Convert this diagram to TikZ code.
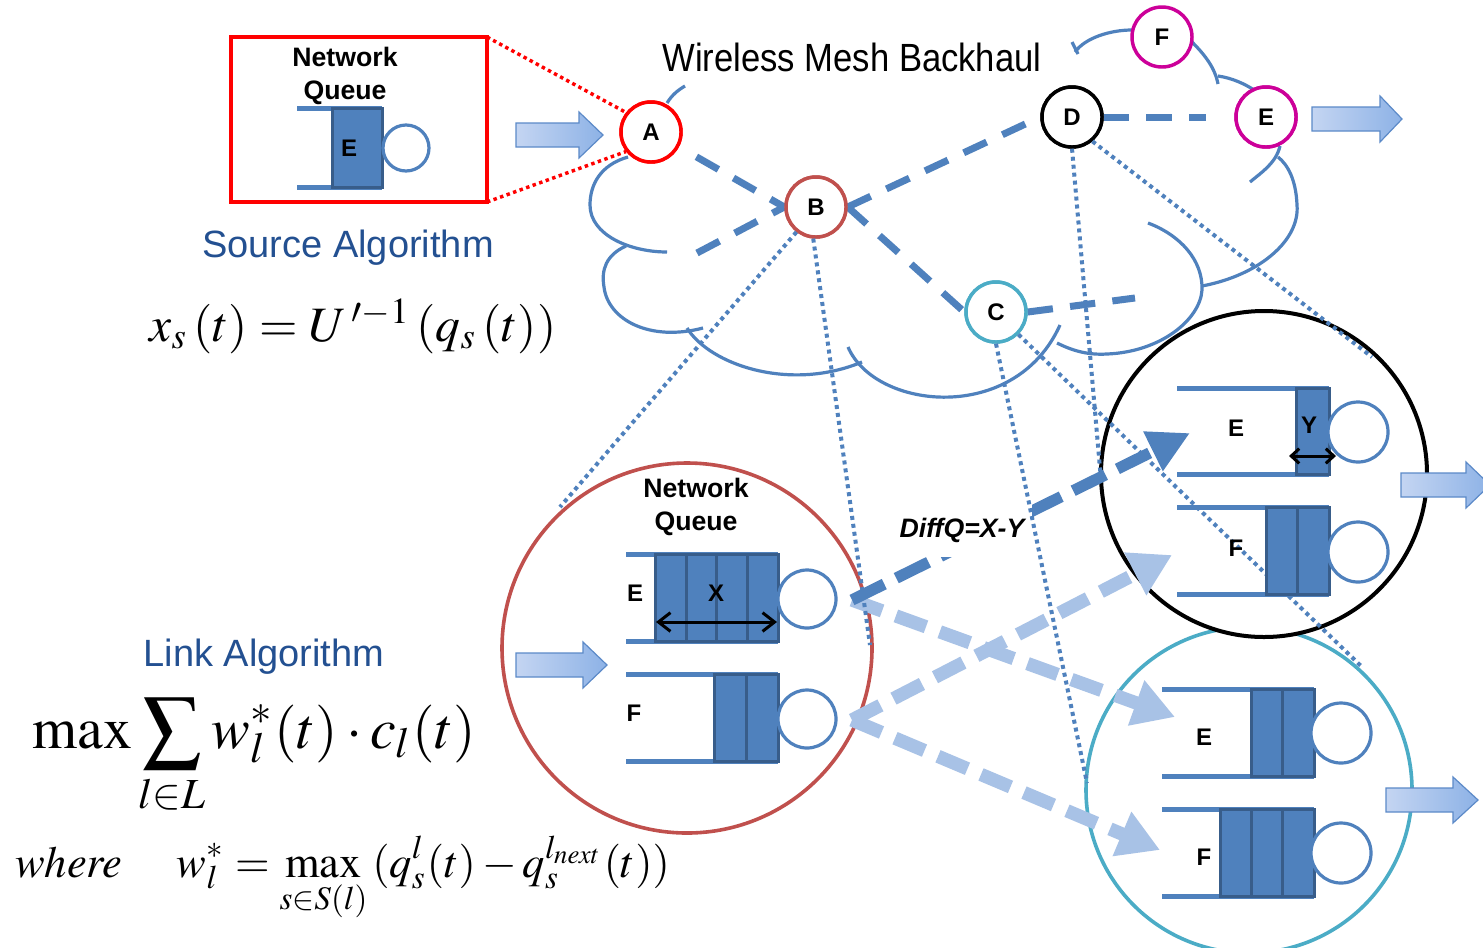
\documentclass[tikz,border=0pt]{standalone}
\usepackage{mathptmx}
\usepackage[no-math]{fontspec}
\setsansfont{Liberation Sans}
\usepackage{graphicx}
\usetikzlibrary{arrows.meta}

\definecolor{qblue}{RGB}{79,129,189}
\definecolor{qdark}{RGB}{56,93,138}
\definecolor{bnode}{RGB}{192,80,77}
\definecolor{cnode}{RGB}{75,172,198}
\definecolor{mnode}{RGB}{204,0,153}
\definecolor{hatchblue}{RGB}{168,194,230}
\definecolor{titleblue}{RGB}{35,80,145}
\definecolor{arrL}{RGB}{196,213,242}
\definecolor{arrR}{RGB}{141,178,230}
\definecolor{arrB}{RGB}{92,138,200}

% block arrow: start x, head start x, tip x, centre y
\newcommand{\flowarrow}[4]{%
  \shade[left color=arrL, right color=arrR, draw=arrB, line width=0.9pt]
    (#1,#4-12) -- (#2,#4-12) -- (#2,#4-23) -- (#3,#4) -- (#2,#4+23)
    -- (#2,#4+12) -- (#1,#4+12) -- cycle;}

\begin{document}
\begin{tikzpicture}[x=0.75pt,y=-0.75pt,
  netnode/.style={circle, draw, line width=2.6pt, fill=white, minimum size=45pt,
    inner sep=0pt, font=\sffamily\bfseries\fontsize{18}{18}\selectfont},
  cloudline/.style={qblue, line width=2.4pt},
  link/.style={qblue, line width=5.25pt, dash pattern=on 19pt off 13pt},
  zoomline/.style={qblue, line width=3pt, dash pattern=on 3pt off 3pt},
  reddot/.style={red, line width=2.6pt, dash pattern=on 2.6pt off 2.6pt},
  rail/.style={qblue, line width=3.75pt},
  cell/.style={fill=qblue, draw=qdark, line width=2.25pt},
  server/.style={circle, draw=qblue, line width=2.4pt, fill=white, inner sep=0pt, minimum size=44pt},
  qlabel/.style={font=\sffamily\bfseries\fontsize{18}{18}\selectfont},
  headtext/.style={font=\sffamily\bfseries\fontsize{20}{24.5}\selectfont, align=center},
  bigcircle/.style={circle, draw, fill=white, line width=2.7pt, inner sep=0pt},
  hatcharrow/.style={hatchblue, line width=10pt, dash pattern=on 24pt off 11pt,
    -{Triangle[length=31pt,width=34pt]}},
  diffarrow/.style={qblue, line width=8.5pt, dash pattern=on 27pt off 10pt,
    -{Triangle[length=31pt,width=31pt]}},
  spread/.style={{Straight Barb[length=9pt,width=14pt]}-{Straight Barb[length=9pt,width=14pt]}, line width=2.25pt},
  smallspread/.style={{Straight Barb[length=6pt,width=11pt]}-{Straight Barb[length=6pt,width=11pt]}, line width=2.25pt},
  title/.style={titleblue, font=\sffamily\fontsize{28.5}{30}\selectfont}
]
\useasboundingbox (0,0) rectangle (1483,947);
\fill[white] (0,0) rectangle (1483,947);

% ---------- mesh cloud ----------
\draw[cloudline] (667,103) .. controls (672,95) and (678,90) .. (685,86);
\draw[cloudline] (628,157) .. controls (600,165) and (590,185) .. (590,205)
  .. controls (590,235) and (630,252) .. (667,252);
\draw[cloudline] (626,246) .. controls (606,255) and (601,270) .. (604,287)
  .. controls (608,320) and (650,342) .. (703,328);
\draw[cloudline] (687,328) .. controls (710,365) and (790,392) .. (862,362);
\draw[cloudline] (848,347) .. controls (875,410) and (1015,425) .. (1060,325);
\draw[cloudline] (1057,343) .. controls (1075,352) and (1090,355) .. (1107,354)
  .. controls (1160,352) and (1200,320) .. (1202,290)
  .. controls (1203,260) and (1180,235) .. (1148,223);
\draw[cloudline] (1202,286) .. controls (1260,275) and (1300,240) .. (1297,205)
  .. controls (1296,180) and (1288,165) .. (1278,157);
\draw[cloudline] (1250,182) .. controls (1262,172) and (1276,163) .. (1280,146);
\draw[cloudline] (1192,42) .. controls (1205,55) and (1215,68) .. (1218,84);
\draw[cloudline] (1218,76) .. controls (1232,78) and (1245,84) .. (1254,90);
\draw[cloudline] (1132,30) .. controls (1110,30) and (1085,38) .. (1075,52);
\draw[cloudline] (1072,42) -- (1078,54);

\node[font=\sffamily\fontsize{29.5}{29.5}\selectfont] (mesh) at (852,57)
  {\scalebox{0.88}[1]{Wireless Mesh Backhaul}};

% ---------- mesh nodes ----------
\coordinate (Ac) at (651,132);
\coordinate (Bc) at (816,207);
\coordinate (Cc) at (996,312);
\coordinate (Dc) at (1072,117);
\coordinate (Ec) at (1266,117);
\node[netnode, draw=red]   (A) at (Ac) {A};
\node[netnode, draw=bnode] (B) at (Bc) {B};
\node[netnode, draw=cnode] (C) at (Cc) {C};
\node[netnode, draw=black] (D) at (Dc) {D};
\node[netnode, draw=mnode] (E) at (Ec) {E};
\node[netnode, draw=mnode] (F) at (1162,37) {F};

\coordinate (inB) at (697,253);
\coordinate (cEnd) at (1135,298);

% ---------- wireless links ----------
\draw[link, shorten <=15pt] (A.-28) -- (B.west);
\draw[link] (inB) -- (B.west);
\draw[link] (B.east) -- (D.west);
\draw[link] (B.east) -- (C.west);
\draw[link, shorten >=21pt] (D.east) -- (E.west);
\draw[link] (C.east) -- (cEnd);
% node discs drawn again above the link ends
\node[netnode, draw=red]   at (Ac) {A};
\node[netnode, draw=bnode] at (Bc) {B};
\node[netnode, draw=cnode] at (Cc) {C};
\node[netnode, draw=black] at (Dc) {D};
\node[netnode, draw=mnode] at (Ec) {E};

% ---------- source queue box ----------
\node[draw=red, line width=2.6pt, minimum width=192pt, minimum height=123.75pt,
  inner sep=0pt, outer sep=0pt] (srcbox) at (359,119.5) {};
\draw[reddot] (srcbox.north east) -- (A.142);
\draw[reddot] (srcbox.south east) -- (A.218);
\node[headtext] (srcq) at (345,76) {Network\\Queue};
\draw[rail] (297,108) -- (382,108) (297,187) -- (382,187);
\draw[cell] (332,108) rectangle (382,187);
\node[qlabel] at (349,148) {E};
\node[server, minimum size=34.5pt] (srcsrv) at (406,148) {};

\flowarrow{516}{579}{603}{135}
\flowarrow{1312}{1380}{1402}{119}

\node[title] (srcalg) at (348,248) {Source Algorithm};
\node (srcfml) at (353,326) {\resizebox{305pt}{!}{$x_s\,(t)=U\,'^{-1}\,(q_s\,(t))$}};

\node[title] (linkalg) at (264,657) {Link Algorithm};
\node[anchor=base west, inner sep=0pt] (linkfml) at (32,748)
  {\resizebox{333pt}{!}{$\displaystyle \max\sum_{l\in L} w_l^*(t)\cdot c_l(t)$}};
\node[anchor=base west, inner sep=0pt] (wherefml) at (15,877)
  {\resizebox{491pt}{!}{$\displaystyle \mathit{where}\quad\; w_l^* = \max_{s\in S(l)}\,(q_s^l(t)-q_s^{l_{next}}(t))$}};

% ---------- zoomed nodes ----------
\node[bigcircle, draw=cnode, minimum size=244.5pt] (zC) at (1249,790) {};
\node[bigcircle, draw=black, line width=3pt, minimum size=244.5pt] (zD) at (1264,474) {};
\node[bigcircle, draw=bnode, minimum size=277.5pt] (zB) at (687,648) {};

% tangent lines from mesh nodes to their zoomed views
\coordinate (tB1) at (560,507);
\coordinate (tB2) at (870,645);
\coordinate (tD1) at (1101,480);
\coordinate (tD2) at (1372,357);
\coordinate (tC1) at (1087,783);
\coordinate (tC2) at (1362,667);
\draw[zoomline] (B.232) -- (tB1);
\draw[zoomline] (D.270) -- (tD1);
\draw[zoomline] (D.-50) -- (tD2);
\draw[zoomline] (C.-45) -- (tC2);

% ---------- queues at B ----------
\node[headtext] (bq) at (696,507) {Network\\Queue};
\draw[rail] (626,554) -- (778,554) (626,641) -- (778,641);
\foreach \a/\b in {655/686,686/716,716/747,747/778}
  \draw[cell] (\a,554) rectangle (\b,641);
\node[server, minimum size=43.5pt] (bsE) at (807,599) {};
\node[qlabel] at (635,593) {E};
\node[qlabel] at (716,593) {X};
\draw[spread] (656,622) -- (777,622);

\draw[rail] (626,674) -- (778,674) (626,761) -- (778,761);
\foreach \a/\b in {714/746,746/778}
  \draw[cell] (\a,674) rectangle (\b,761);
\node[server, minimum size=43.5pt] (bsF) at (807,719) {};
\node[qlabel] at (634,713) {F};

\flowarrow{516}{583}{607}{665}

% ---------- queues at D ----------
\draw[rail] (1177,388) -- (1329,388) (1177,474) -- (1329,474);
\draw[cell] (1296,388) rectangle (1329,474);
\node[server, minimum size=45pt] (dsE) at (1358,432) {};
\node[qlabel] at (1236,428) {E};
\node[qlabel] at (1309,425) {Y};
\draw[smallspread] (1289,456) -- (1336,456);

\draw[rail] (1177,507) -- (1329,507) (1177,594) -- (1329,594);
\foreach \a/\b in {1266/1297,1297/1329}
  \draw[cell] (\a,507) rectangle (\b,594);
\node[server, minimum size=45pt] (dsF) at (1358,552) {};
\node[qlabel] at (1236,548) {F};

\flowarrow{1401}{1466}{1490}{485}

% ---------- queues at C ----------
\draw[rail] (1162,689) -- (1314,689) (1162,776) -- (1314,776);
\foreach \a/\b in {1251/1282,1282/1314}
  \draw[cell] (\a,689) rectangle (\b,776);
\node[server, minimum size=45pt] (csE) at (1341,733) {};
\node[qlabel] at (1204,737) {E};

\draw[rail] (1162,809) -- (1314,809) (1162,896) -- (1314,896);
\foreach \a/\b in {1220/1251,1251/1282,1282/1314}
  \draw[cell] (\a,809) rectangle (\b,896);
\node[server, minimum size=45pt] (csF) at (1341,853) {};
\node[qlabel] at (1204,857) {F};

\flowarrow{1386}{1453}{1478}{800}

% ---------- back-pressure transfers ----------
\coordinate (fromE) at (852,600);
\coordinate (fromF) at (852,720);
\coordinate (toCE) at (1175,717);
\coordinate (toDF) at (1172,555);
\coordinate (toCF) at (1160,850);
\coordinate (toDE) at (1190,433);
\draw[hatcharrow] (fromE) -- (toCE);
\draw[hatcharrow] (fromF) -- (toDF);
\draw[hatcharrow] (fromF) -- (toCF);
\draw[diffarrow] (fromE) -- (toDE);
\node[fill=white, inner xsep=6pt, minimum height=40pt,
  font=\sffamily\bfseries\itshape\fontsize{20}{20}\selectfont] (diff) at (962,530) {DiffQ=X-Y};
\draw[zoomline] (C.270) -- (tC1);
\draw[zoomline] (B.265) -- (tB2);
\end{tikzpicture}
\end{document}
